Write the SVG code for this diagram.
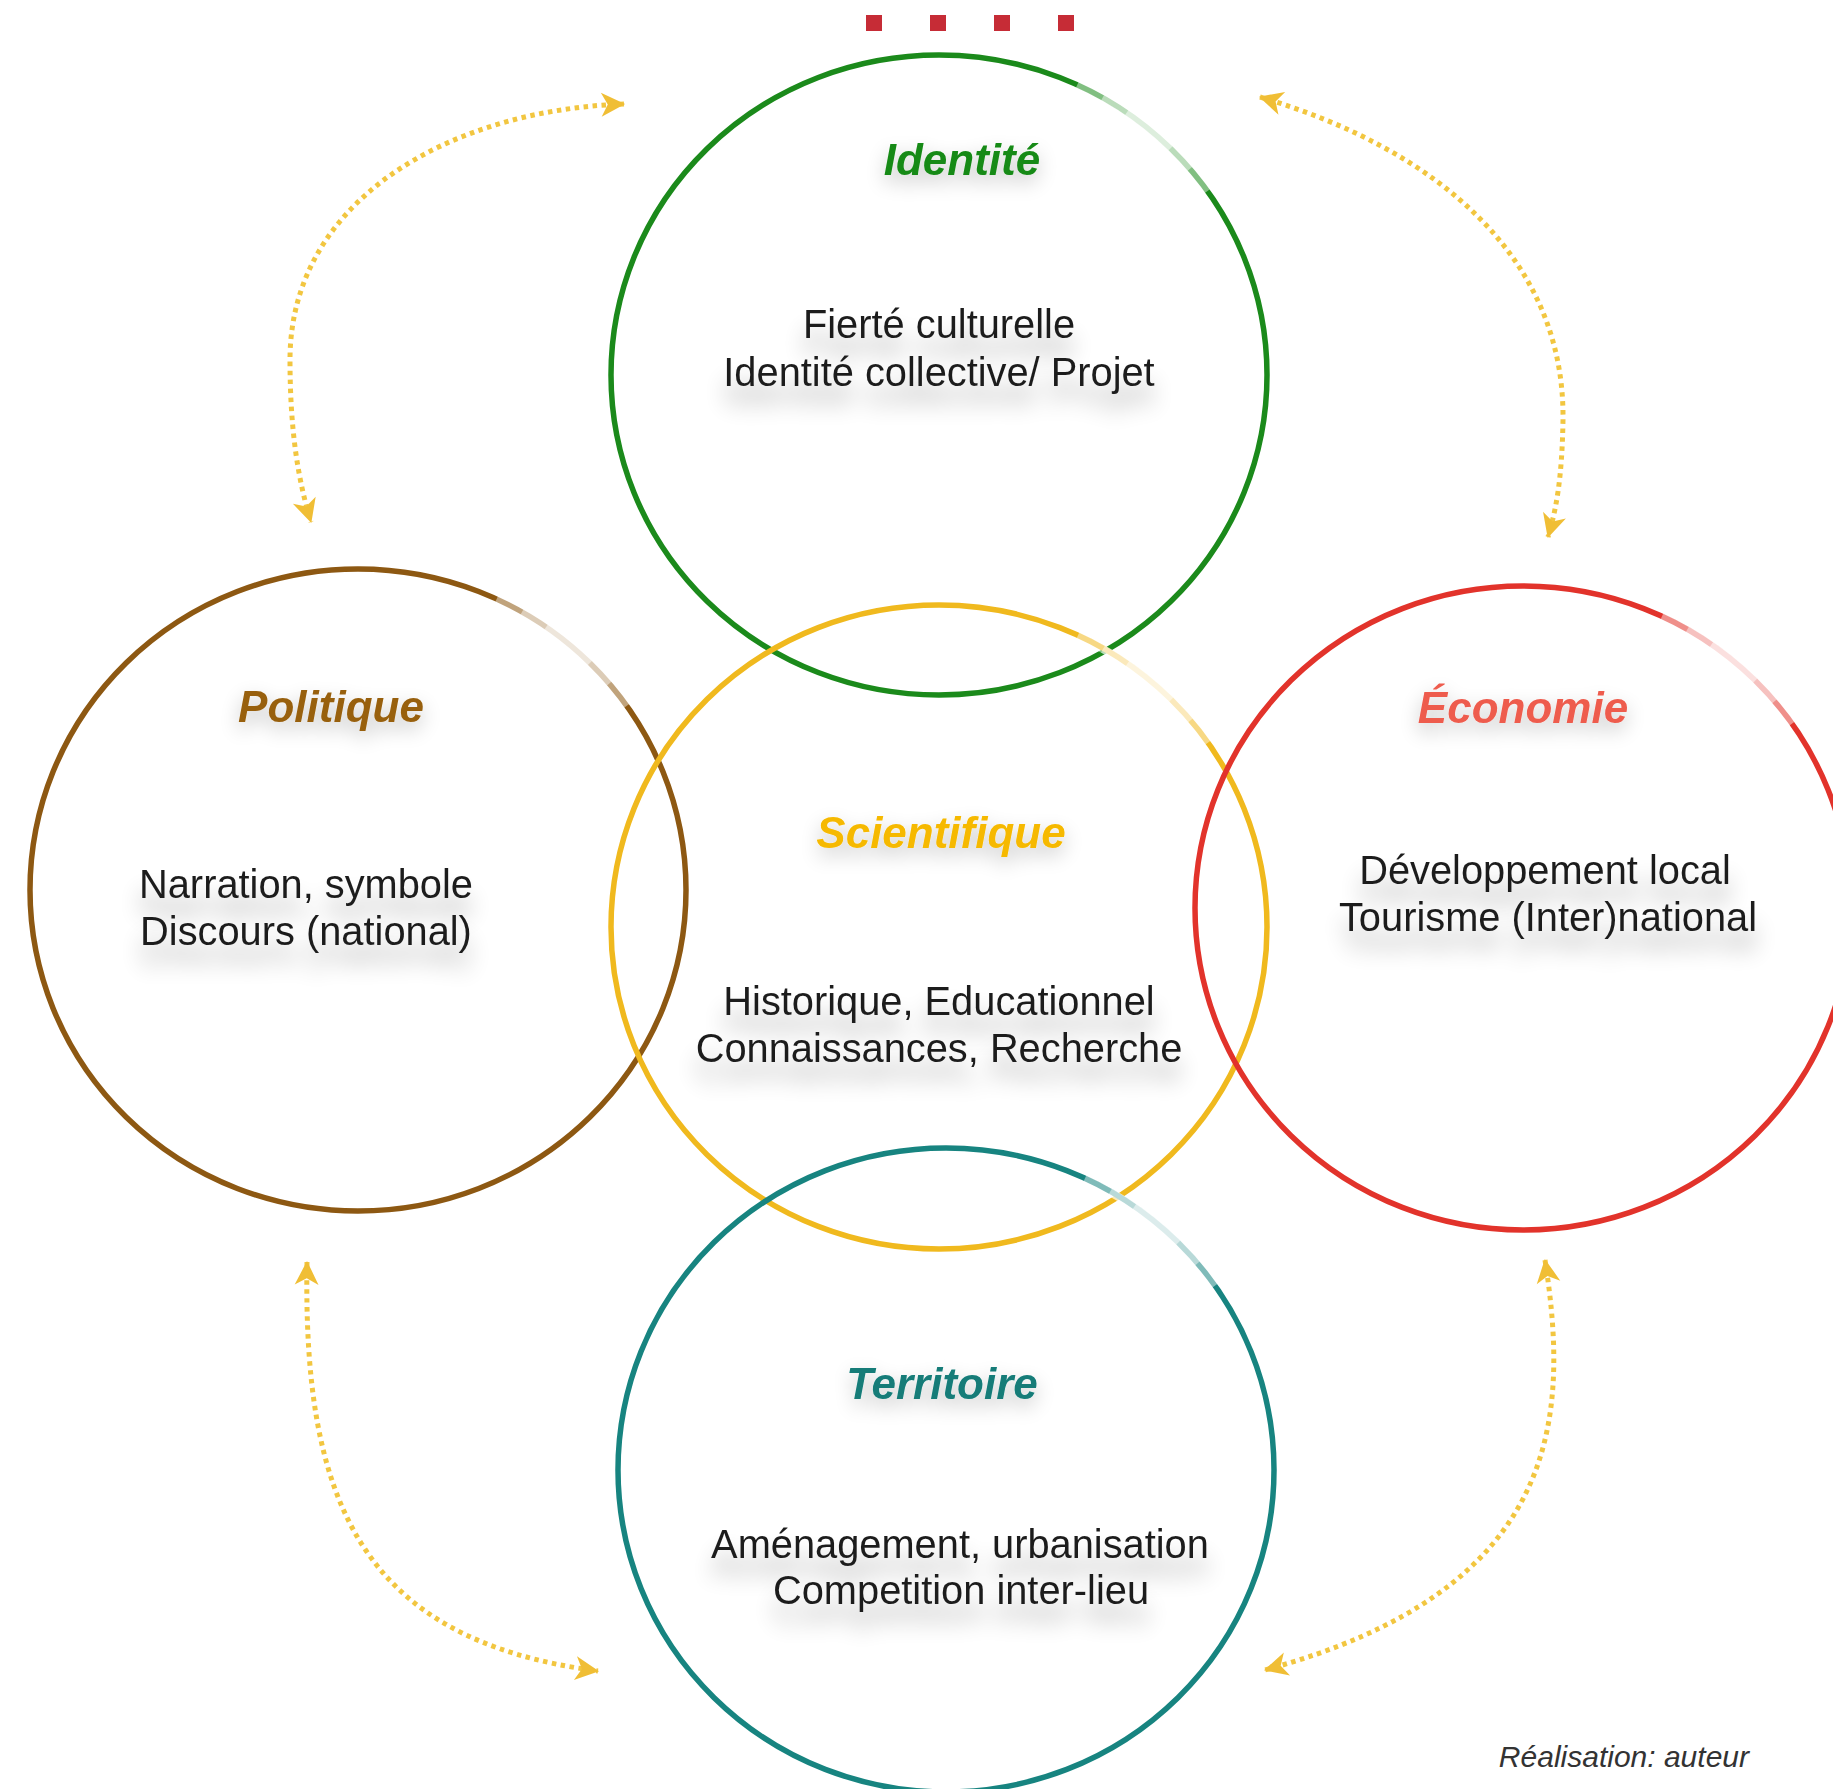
<svg xmlns="http://www.w3.org/2000/svg" xmlns:xlink="http://www.w3.org/1999/xlink" width="1833" height="1789" viewBox="0 0 1833 1789">
<style>
  .ring { fill: none; stroke-width: 5.5; }
  .title { font-family: "Liberation Sans", Arial, sans-serif; font-weight: bold; font-style: italic; font-size: 44px; text-anchor: middle; filter: url(#glow); }
  .body { font-family: "Liberation Sans", Arial, sans-serif; font-size: 39.8px; fill: #1e1e1e; text-anchor: middle; filter: url(#sh); }
  .link { fill: none; stroke: #f1c02c; stroke-width: 5; stroke-dasharray: 4.5 4.5; opacity: 0.9; marker-start: url(#chev); marker-end: url(#chev); }
  .fade { fill: none; stroke: #ffffff; stroke-width: 8; }
  .credit { font-family: "Liberation Sans", Arial, sans-serif; font-style: italic; font-size: 30px; fill: #333333; text-anchor: end; }
  .sq { fill: #c62c36; }
</style>
<defs>
  <filter id="sh" x="-20%" y="-60%" width="140%" height="320%">
    <feGaussianBlur in="SourceAlpha" stdDeviation="11"/>
    <feOffset dy="20" result="b"/>
    <feComponentTransfer in="b" result="c"><feFuncA type="linear" slope="0.3"/></feComponentTransfer>
    <feMerge><feMergeNode in="c"/><feMergeNode in="SourceGraphic"/></feMerge>
  </filter>
  <filter id="glow" x="-30%" y="-80%" width="160%" height="300%">
    <feGaussianBlur in="SourceAlpha" stdDeviation="10"/>
    <feOffset dy="8" result="b"/>
    <feComponentTransfer in="b" result="c"><feFuncA type="linear" slope="0.25"/></feComponentTransfer>
    <feMerge><feMergeNode in="c"/><feMergeNode in="SourceGraphic"/></feMerge>
  </filter>
  <marker id="chev" viewBox="0 0 12 12" refX="11" refY="6" markerWidth="26" markerHeight="26" markerUnits="userSpaceOnUse" orient="auto-start-reverse">
    <path d="M0.5,0.5 L11.5,6 L0.5,11.5 L3.5,6 Z" fill="#efb820"/>
  </marker>
  <g id="fadeArc">
    <path class="fade" stroke-opacity="0.45" d="M 138.6 -290.9 A 328 321 0 0 1 268.7 -184.1"/>
    <path class="fade" stroke-opacity="0.45" d="M 164 -278 A 328 321 0 0 1 251.2 -206.3"/>
    <path class="fade" stroke-opacity="0.5" d="M 188.1 -263 A 328 321 0 0 1 231.9 -227"/>
  </g>
</defs>
<rect width="1833" height="1789" fill="#ffffff"/>

<g id="markers-top">
  <rect class="sq" x="866" y="15" width="16" height="16"/>
  <rect class="sq" x="930" y="15" width="16" height="16"/>
  <rect class="sq" x="994" y="15" width="16" height="16"/>
  <rect class="sq" x="1058" y="15" width="16" height="16"/>
</g>

<g id="connectors">
  <path class="link" d="M 624 104 C 450 110, 290 200, 290 360 C 290 430, 298 480, 311 522"/>
  <path class="link" d="M 1260 97 C 1440 150, 1565 260, 1563 420 C 1562 480, 1556 510, 1548 537"/>
  <path class="link" d="M 307 1262 C 303 1500, 360 1640, 598 1671"/>
  <path class="link" d="M 1545 1260 C 1570 1420, 1560 1590, 1265 1670"/>
</g>

<g id="identite">
  <ellipse class="ring" cx="939" cy="375" rx="328" ry="320" stroke="#1b8a1b"/>
  <use href="#fadeArc" x="939" y="375"/>
  <text class="title" x="962" y="175" fill="#178a17">Identité</text>
  <text class="body" x="939" y="338">Fierté culturelle</text>
  <text class="body" x="939" y="386">Identité collective/ Projet</text>
</g>

<g id="politique">
  <ellipse class="ring" cx="358" cy="890" rx="328" ry="321" stroke="#8d5812"/>
  <use href="#fadeArc" x="358" y="890"/>
  <text class="title" x="331" y="722" fill="#98600f">Politique</text>
  <text class="body" x="306" y="898">Narration, symbole</text>
  <text class="body" x="306" y="945">Discours (national)</text>
</g>

<g id="scientifique">
  <ellipse class="ring" cx="939" cy="927" rx="328" ry="322" stroke="#f0b91e"/>
  <use href="#fadeArc" x="939" y="927"/>
  <text class="title" x="941" y="848" fill="#f6b900">Scientifique</text>
  <text class="body" x="939" y="1015">Historique, Educationnel</text>
  <text class="body" x="939" y="1062">Connaissances, Recherche</text>
</g>

<g id="economie">
  <ellipse class="ring" cx="1523" cy="908" rx="328" ry="322" stroke="#e2332b"/>
  <use href="#fadeArc" x="1523" y="908"/>
  <text class="title" x="1523" y="723" fill="#ee5b4d">Économie</text>
  <text class="body" x="1545" y="884">Développement local</text>
  <text class="body" x="1548" y="931">Tourisme (Inter)national</text>
</g>

<g id="territoire">
  <ellipse class="ring" cx="946" cy="1470" rx="328" ry="322" stroke="#178480"/>
  <use href="#fadeArc" x="946" y="1470"/>
  <text class="title" x="942" y="1399" fill="#137c78">Territoire</text>
  <text class="body" x="960" y="1558">Aménagement, urbanisation</text>
  <text class="body" x="961" y="1604">Competition inter-lieu</text>
</g>

<text class="credit" x="1749" y="1767">Réalisation: auteur</text>
</svg>
